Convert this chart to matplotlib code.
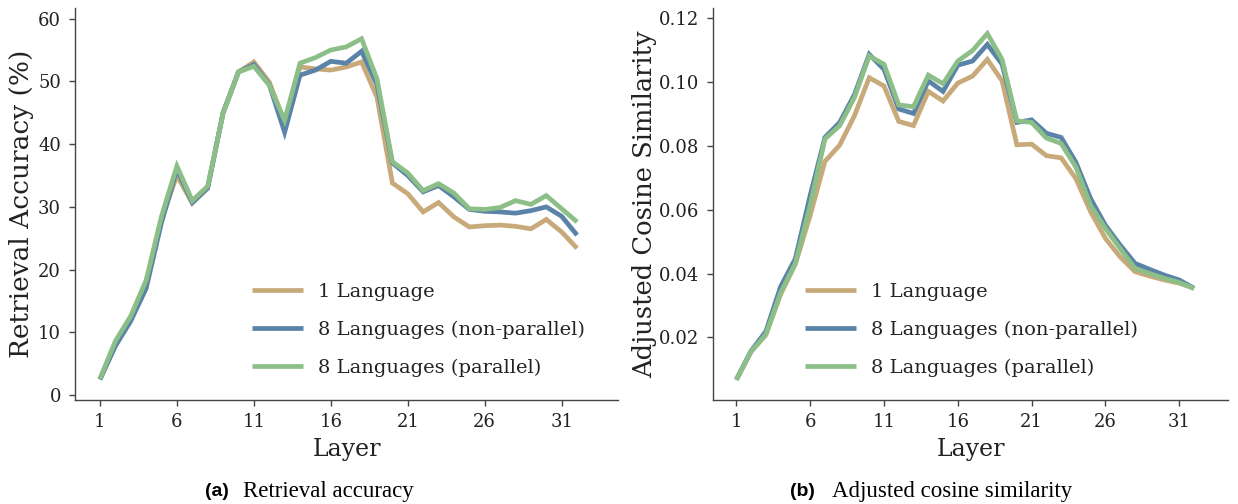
import matplotlib
matplotlib.use("Agg")
import matplotlib.pyplot as plt
import numpy as np

layers = list(range(1, 33))
series_names = ["1 Language", "8 Languages (non-parallel)", "8 Languages (parallel)"]

acc_1lang = [2.5, 8.0, 12.3, 17.5, 28.0, 35.0, 30.6, 33.0, 45.0, 51.5, 53.1, 49.9, 43.5, 52.3, 52.0, 51.8,
             52.3, 53.1, 47.5, 33.8, 32.1, 29.2, 30.7, 28.4, 26.8, 27.0, 27.1, 26.9, 26.5, 28.0, 26.0, 23.4]
acc_nonpar = [2.5, 7.8, 11.8, 17.0, 27.5, 36.0, 30.7, 33.0, 45.0, 51.5, 52.7, 49.5, 41.9, 51.0, 51.8, 53.2,
              52.9, 54.8, 49.5, 37.0, 35.0, 32.4, 33.4, 31.6, 29.6, 29.3, 29.2, 29.0, 29.4, 30.0, 28.5, 25.5]
acc_par = [2.6, 8.6, 12.6, 18.3, 28.5, 36.5, 31.0, 33.3, 44.9, 51.5, 52.4, 49.4, 43.8, 52.9, 53.8, 55.0,
           55.5, 56.8, 50.4, 37.2, 35.4, 32.6, 33.7, 32.2, 29.7, 29.6, 29.9, 31.0, 30.4, 31.8, 29.7, 27.6]

cos_1lang = [0.0068, 0.0156, 0.0208, 0.0335, 0.0430, 0.0582, 0.0751, 0.0802, 0.0894, 0.1013, 0.0987, 0.0876,
             0.0863, 0.0970, 0.0940, 0.0996, 0.1018, 0.1070, 0.1003, 0.0803, 0.0805, 0.0769, 0.0762, 0.0697,
             0.0593, 0.0510, 0.0452, 0.0406, 0.0392, 0.0380, 0.0370, 0.0354]
cos_nonpar = [0.0068, 0.0158, 0.0219, 0.0359, 0.0447, 0.0644, 0.0826, 0.0873, 0.0960, 0.1086, 0.1039, 0.0915,
              0.0901, 0.1003, 0.0970, 0.1052, 0.1065, 0.1117, 0.1055, 0.0873, 0.0881, 0.0839, 0.0826, 0.0748,
              0.0634, 0.0551, 0.0489, 0.0432, 0.0413, 0.0395, 0.0380, 0.0354]
cos_par = [0.0068, 0.0156, 0.0210, 0.0340, 0.0432, 0.0613, 0.0821, 0.0863, 0.0951, 0.1081, 0.1055, 0.0928,
           0.0922, 0.1021, 0.0994, 0.1065, 0.1098, 0.1151, 0.1070, 0.0878, 0.0873, 0.0824, 0.0807, 0.0733,
           0.0613, 0.0541, 0.0478, 0.0416, 0.0400, 0.0385, 0.0372, 0.0354]

xticks = [1, 6, 11, 16, 21, 26, 31]
acc_yticks = [0, 10, 20, 30, 40, 50, 60]
cos_yticks = [0.02, 0.04, 0.06, 0.08, 0.10, 0.12]

colors = ["#C8A97A", "#5A83A8", "#8CBF88"]
SERIF = ["DejaVu Serif"]
spine_c = "#444444"
text_c = "#222222"

fig = plt.figure(figsize=(12.38, 5.04), dpi=100)
ax1 = fig.add_axes([75 / 1238, 1 - 399.5 / 504, 543 / 1238, 391.5 / 504])
ax2 = fig.add_axes([713 / 1238, 1 - 399.5 / 504, 515 / 1238, 391.5 / 504])


def style(ax, yt, ylabel, yfmt, ylsize, ylx):
    for s in ["top", "right"]:
        ax.spines[s].set_visible(False)
    for s in ["left", "bottom"]:
        ax.spines[s].set_color(spine_c)
        ax.spines[s].set_linewidth(1.0)
    ax.set_xticks(xticks)
    ax.set_xticklabels([str(t) for t in xticks], family=SERIF, fontsize=13, color=text_c)
    ax.set_yticks(yt)
    ax.set_yticklabels([yfmt.format(t) for t in yt], family=SERIF, fontsize=13, color=text_c)
    ax.tick_params(direction="out", length=4, width=1, color=spine_c, pad=6)
    ax.set_xlabel("Layer", family=SERIF, fontsize=17, color=text_c, labelpad=5)
    ax.set_ylabel(ylabel, family=SERIF, fontsize=ylsize, color=text_c, va="center")
    ax.yaxis.set_label_coords(ylx, 0.5)


for ax, data in [(ax1, [acc_1lang, acc_nonpar, acc_par]), (ax2, [cos_1lang, cos_nonpar, cos_par])]:
    for name, vals, c in zip(series_names, data, colors):
        ax.plot(layers, vals, color=c, lw=3.4, label=name, solid_capstyle="butt", solid_joinstyle="miter")

ax1.set_xlim(-0.62, 34.66)
ax1.set_ylim(-0.7, 61.7)
ax2.set_xlim(-0.58, 34.3)
ax2.set_ylim(0.0006, 0.1231)

style(ax1, acc_yticks, "Retrieval Accuracy (%)", "{:d}", 19, (22 - 75) / 543)
style(ax2, cos_yticks, "Adjusted Cosine Similarity", "{:.2f}", 18.5, (645 - 713) / 515)

leg_kw = dict(frameon=False, loc="upper left", borderpad=0, borderaxespad=0, handlelength=2.6,
              handletextpad=0.8, labelspacing=1.02, prop={"family": SERIF, "size": 14})
l1 = ax1.legend(bbox_to_anchor=((252 - 75) / 543, (399.5 - 283) / 391.5), **leg_kw)
l2 = ax2.legend(bbox_to_anchor=((805 - 713) / 515, (399.5 - 283) / 391.5), **leg_kw)
for lg in (l1, l2):
    for t in lg.get_texts():
        t.set_color(text_c)

# captions
fig.text(205 / 1238, 1 - 492 / 504, "(a)", family=["Liberation Sans"], weight="bold", fontsize=14,
         va="center", ha="left")
fig.text(243 / 1238, 1 - 492 / 504, "Retrieval accuracy", family=["Liberation Serif"], fontsize=16.5,
         va="center", ha="left")
fig.text(790 / 1238, 1 - 492 / 504, "(b)", family=["Liberation Sans"], weight="bold", fontsize=14,
         va="center", ha="left")
fig.text(832 / 1238, 1 - 492 / 504, "Adjusted cosine similarity", family=["Liberation Serif"], fontsize=16.5,
         va="center", ha="left")

fig.savefig("out.png", dpi=100)
